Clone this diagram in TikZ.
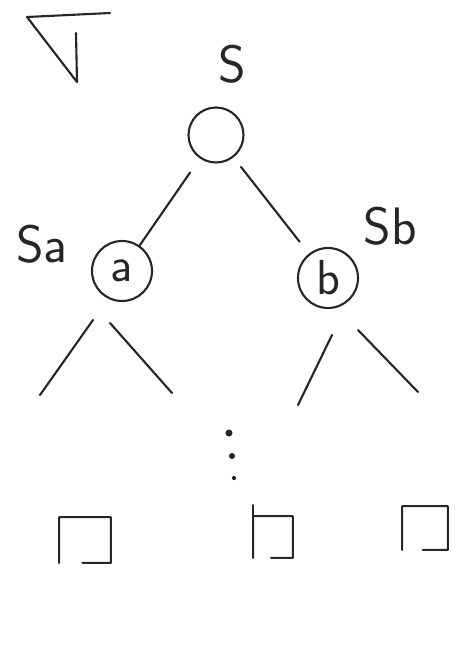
\documentclass[tikz,border=0pt]{standalone}
\usepackage{tikz}
\usetikzlibrary{calc}

\begin{document}
\begin{tikzpicture}[
  x=0.02cm, y=-0.02cm,
  ink/.style={draw=black!85, line width=1.2pt, line cap=round, line join=round},
  label/.style={font=\sffamily\fontsize{30}{34}\selectfont, text=black!85, inner sep=0pt},
  vertex/.style={circle, ink, inner sep=0pt, font=\sffamily\fontsize{28}{32}\selectfont, text=black!85},
  leaf/.style={draw=none, inner sep=0pt},
  edge/.style={ink}
]
\useasboundingbox (0,0) rectangle (459,663);

% corner mark
\draw[ink] (76,33) -- (77,82) -- (27,17) -- (110,13);

% tree
\node[label] (sroot) at (232,64) {S};
\node[vertex, minimum size=1.1cm] (root) at (216,135) {};
\node[vertex, minimum size=1.2cm] (a) at (122,271) {a};
\node[vertex, minimum size=1.2cm] (b) at (328,278) {b};
\node[label] (sa) at (42,244) {Sa};
\node[label] (sb) at (390,226) {Sb};

\draw[edge, shorten <=0.34cm] (root) -- (a);
\draw[edge, shorten <=0.24cm, shorten >=0.3cm] (root) -- (b);

% subtrees
\coordinate (a1) at (93,320);  \coordinate (a2) at (40,395);
\coordinate (a3) at (110,323); \coordinate (a4) at (172,393);
\coordinate (b1) at (332,335); \coordinate (b2) at (298,405);
\coordinate (b3) at (358,330); \coordinate (b4) at (418,392);
\draw[edge] (a1) -- (a2);
\draw[edge] (a3) -- (a4);
\draw[edge] (b1) -- (b2);
\draw[edge] (b3) -- (b4);

% dots
\fill[black!85] (229,433) circle (2pt);
\fill[black!85] (232,456) circle (1.7pt);
\fill[black!85] (234,478) circle (1.2pt);

% leaves
\node[leaf, minimum width=1.02cm, minimum height=0.9cm] (l1) at (85,540) {};
\node[leaf, minimum width=0.78cm, minimum height=0.82cm] (l2) at (273,537) {};
\node[leaf, minimum width=0.9cm, minimum height=0.86cm] (l3) at (425,528) {};
\foreach \l in {l1,l2,l3}
  \draw[ink] (\l.south west) -- (\l.north west) -- (\l.north east) -- (\l.south east) -- ($(\l.south east)!0.55!(\l.south west)$);
\draw[ink] (l2.north west) -- ++(0,-11);
\end{tikzpicture}
\end{document}
